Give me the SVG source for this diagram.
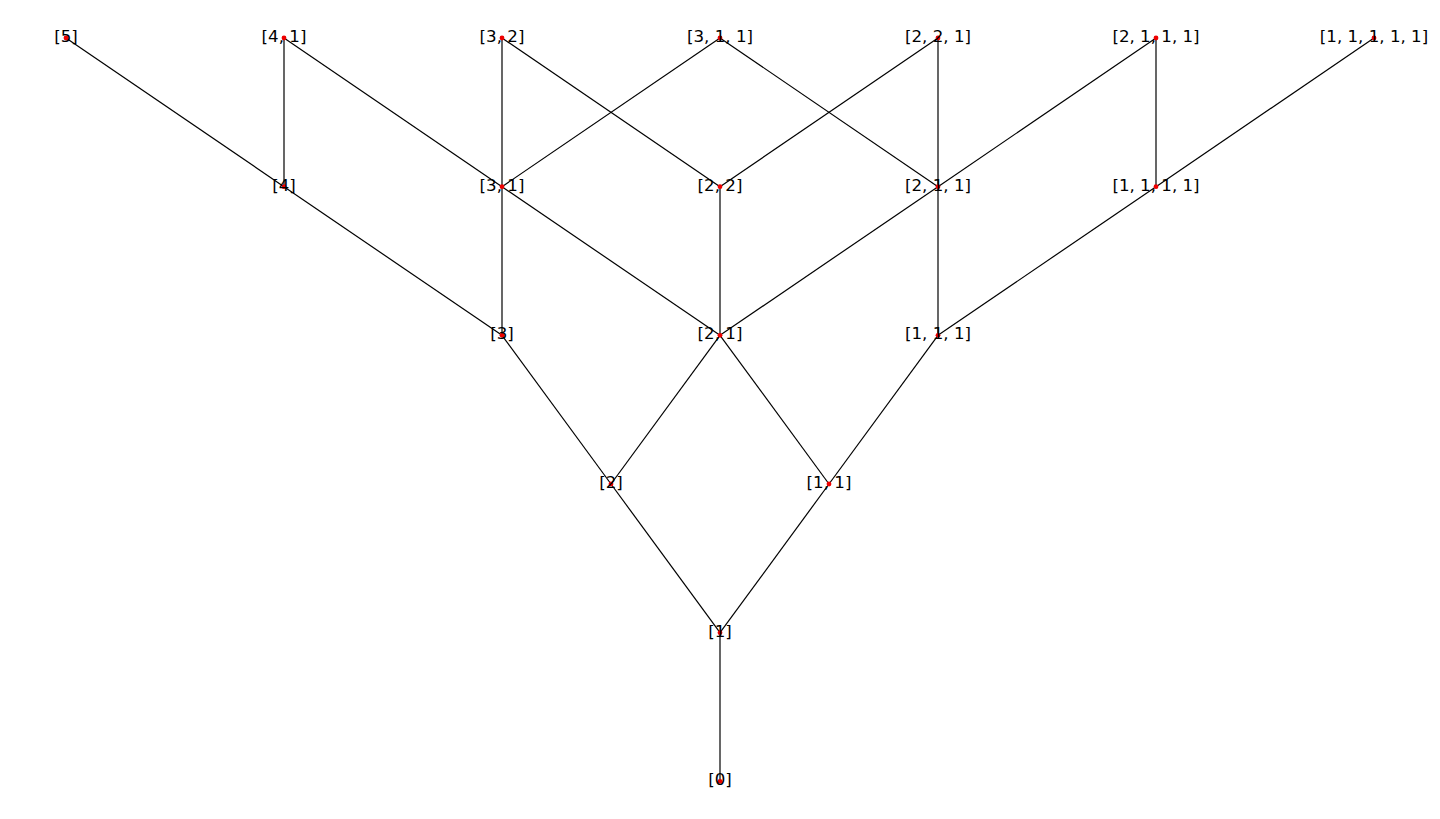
<svg xmlns="http://www.w3.org/2000/svg" width="1440" height="819" viewBox="0 0 1440 819">
<style>
.e{stroke:#000;stroke-width:1.2;fill:none}
.n circle{fill:#e00;stroke:none}
.n text{font-family:"DejaVu Sans",sans-serif;font-size:16.67px;fill:#000;text-anchor:middle}
</style>
<rect width="1440" height="819" fill="#fff"/>
<g id="connectors">
<line class="e" x1="720" y1="781.3" x2="720" y2="632.7"/>
<line class="e" x1="720" y1="632.7" x2="611" y2="484"/>
<line class="e" x1="720" y1="632.7" x2="829" y2="484"/>
<line class="e" x1="611" y1="484" x2="502" y2="335.3"/>
<line class="e" x1="611" y1="484" x2="720" y2="335.3"/>
<line class="e" x1="829" y1="484" x2="720" y2="335.3"/>
<line class="e" x1="829" y1="484" x2="938" y2="335.3"/>
<line class="e" x1="502" y1="335.3" x2="284" y2="186.7"/>
<line class="e" x1="502" y1="335.3" x2="502" y2="186.7"/>
<line class="e" x1="720" y1="335.3" x2="502" y2="186.7"/>
<line class="e" x1="720" y1="335.3" x2="720" y2="186.7"/>
<line class="e" x1="720" y1="335.3" x2="938" y2="186.7"/>
<line class="e" x1="938" y1="335.3" x2="938" y2="186.7"/>
<line class="e" x1="938" y1="335.3" x2="1156" y2="186.7"/>
<line class="e" x1="284" y1="186.7" x2="66" y2="38"/>
<line class="e" x1="284" y1="186.7" x2="284" y2="38"/>
<line class="e" x1="502" y1="186.7" x2="284" y2="38"/>
<line class="e" x1="502" y1="186.7" x2="502" y2="38"/>
<line class="e" x1="502" y1="186.7" x2="720" y2="38"/>
<line class="e" x1="720" y1="186.7" x2="502" y2="38"/>
<line class="e" x1="720" y1="186.7" x2="938" y2="38"/>
<line class="e" x1="938" y1="186.7" x2="720" y2="38"/>
<line class="e" x1="938" y1="186.7" x2="938" y2="38"/>
<line class="e" x1="938" y1="186.7" x2="1156" y2="38"/>
<line class="e" x1="1156" y1="186.7" x2="1156" y2="38"/>
<line class="e" x1="1156" y1="186.7" x2="1374" y2="38"/>
</g>
<g id="n5" class="n"><circle cx="66" cy="38" r="2.4"/><text x="66" y="42">[5]</text></g>
<g id="n41" class="n"><circle cx="284" cy="38" r="2.4"/><text x="284" y="42">[4, 1]</text></g>
<g id="n32" class="n"><circle cx="502" cy="38" r="2.4"/><text x="502" y="42">[3, 2]</text></g>
<g id="n311" class="n"><circle cx="720" cy="38" r="2.4"/><text x="720" y="42">[3, 1, 1]</text></g>
<g id="n221" class="n"><circle cx="938" cy="38" r="2.4"/><text x="938" y="42">[2, 2, 1]</text></g>
<g id="n2111" class="n"><circle cx="1156" cy="38" r="2.4"/><text x="1156" y="42">[2, 1, 1, 1]</text></g>
<g id="n11111" class="n"><circle cx="1374" cy="38" r="2.4"/><text x="1374" y="42">[1, 1, 1, 1, 1]</text></g>
<g id="n4" class="n"><circle cx="284" cy="186.7" r="2.4"/><text x="284" y="190.7">[4]</text></g>
<g id="n31" class="n"><circle cx="502" cy="186.7" r="2.4"/><text x="502" y="190.7">[3, 1]</text></g>
<g id="n22" class="n"><circle cx="720" cy="186.7" r="2.4"/><text x="720" y="190.7">[2, 2]</text></g>
<g id="n211" class="n"><circle cx="938" cy="186.7" r="2.4"/><text x="938" y="190.7">[2, 1, 1]</text></g>
<g id="n1111" class="n"><circle cx="1156" cy="186.7" r="2.4"/><text x="1156" y="190.7">[1, 1, 1, 1]</text></g>
<g id="n3" class="n"><circle cx="502" cy="335.3" r="2.4"/><text x="502" y="339.3">[3]</text></g>
<g id="n21" class="n"><circle cx="720" cy="335.3" r="2.4"/><text x="720" y="339.3">[2, 1]</text></g>
<g id="n111" class="n"><circle cx="938" cy="335.3" r="2.4"/><text x="938" y="339.3">[1, 1, 1]</text></g>
<g id="n2" class="n"><circle cx="611" cy="484" r="2.4"/><text x="611" y="488">[2]</text></g>
<g id="n11" class="n"><circle cx="829" cy="484" r="2.4"/><text x="829" y="488">[1, 1]</text></g>
<g id="n1" class="n"><circle cx="720" cy="632.7" r="2.4"/><text x="720" y="636.7">[1]</text></g>
<g id="n0" class="n"><circle cx="720" cy="781.3" r="2.4"/><text x="720" y="785.3">[0]</text></g>
</svg>
